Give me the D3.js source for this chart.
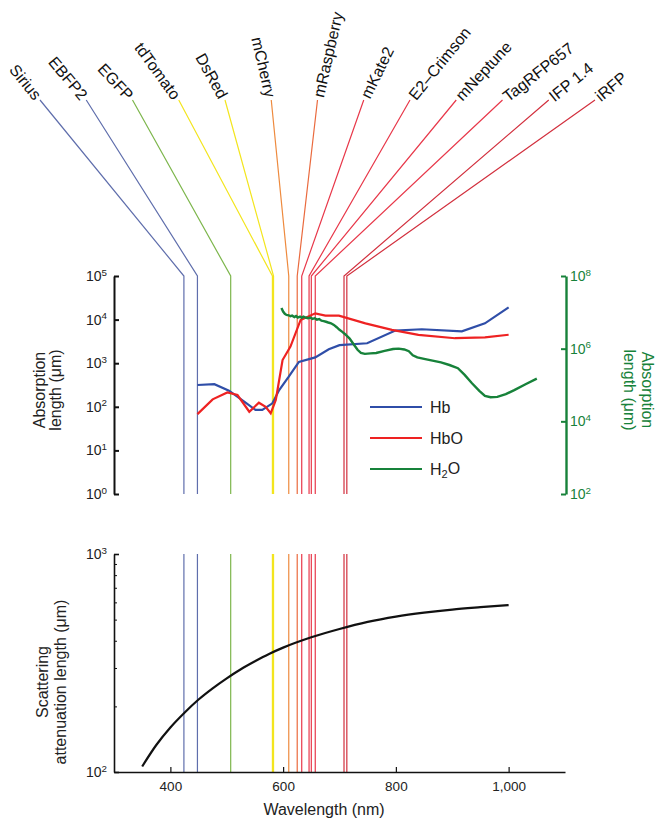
<!DOCTYPE html>
<html><head><meta charset="utf-8">
<script src="https://cdn.jsdelivr.net/npm/d3@7"></script>
<style>body{margin:0;background:#fff} svg text{font-family:"Liberation Sans",Arial,Helvetica,sans-serif}</style>
</head><body><svg id="c" width="662" height="829"></svg>
<script>
// ---- data ----
const proteins = ["Sirius","EBFP2","EGFP","tdTomato","DsRed","mCherry","mRaspberry","mKate2","E2\u2013Crimson","mNeptune","TagRFP657","IFP 1.4","iRFP"];
const emission = [424,448,507,581,583,610,625,633,646,650,657,708,713];
const proteinColors = ["#5f6eac","#5f6eac","#7db64c","#f3e51e","#f3e51e","#ee8a3e","#ea6a3e","#e8384a","#e8384a","#e8384a","#e8384a","#d2303e","#d2303e"];
const labelAngles = [51,50,47,54,61,77,-77,-64,-51,-47,-38,-39,-40];

const hbNm  = [448,478,504,531,551,563,581,593,610,628,657,681,700,749,799,846,917,958,1000];
const hbVal = [316,330,234,131,85,85,120,243,490,1070,1360,2090,2600,2870,5600,6000,5400,8200,19000];

const hboNm  = [448,475,501,519,540,557,569,578,587,599,613,631,657,675,699,746,793,840,905,958,1000];
const hboVal = [68,148,214,186,77,124,100,71,144,1180,2400,9800,13900,12300,12300,8200,5800,4450,3740,3930,4500];

const h2oNm  = [597,600,603,606,610,613,616,620,623,626,630,633,636,640,644,648,652,656,660,664,668,672,676,680,685,690,695,700,705,710,718,725,732,738,745,755,765,780,795,805,815,823,830,838,850,865,880,895,910,922,935,948,958,968,980,995,1010,1030,1050];
const h2oVal = [1.32e7,1.05e7,9.1e6,8.5e6,8.3e6,7.8e6,8.1e6,7.4e6,7.9e6,7.2e6,7.6e6,7.1e6,7.6e6,7.2e6,6.9e6,7.2e6,6.6e6,6.9e6,6.3e6,6.5e6,5.9e6,5.75e6,5.5e6,5.25e6,5.0e6,4.5e6,3.9e6,3.3e6,2.9e6,2.5e6,1.9e6,1.32e6,9.3e5,7.6e5,7.2e5,7.4e5,7.6e5,8.7e5,9.8e5,1.0e6,9.5e5,8.5e5,6.6e5,5.75e5,5.25e5,4.7e5,4.2e5,3.55e5,2.9e5,1.9e5,1.12e5,6.9e4,5.0e4,4.6e4,4.7e4,5.6e4,7.2e4,1.05e5,1.5e5];

const scatNm  = [350,375,400,425,450,475,500,525,550,575,600,650,700,750,800,850,900,950,1000];
const scatVal = [106,133,160,187,215,242,269,296,322,348,372,415,453,488,516,538,556,570,583];

const xTicks = [400,600,800,1000];
const absTicks = [1,10,100,1e3,1e4,1e5];
const waterTicks = [1e2,1e4,1e6,1e8];
const scatMajor = [100,1000];
const scatMinor = [200,300,400,500,600,700,800,900];

const legendItems = [{name:"Hb",color:"#2f4ea8"},{name:"HbO",color:"#ee2222"},{name:"H2O",color:"#17823a"}];

// ---- scales ----
const svg = d3.select("#c");
const x = d3.scaleLinear().domain([300,1100]).range([114,565]);
const yA = d3.scaleLog().domain([1,1e5]).range([494,276]);
const yW = d3.scaleLog().domain([1e2,1e8]).range([494,276]);
const yS = d3.scaleLog().domain([100,1000]).range([772,554]);
const anchorX = d3.scalePoint().domain(proteins).range([40,595]);
const anchorY = 100;
const green = "#17823a";

// ---- protein lines ----
const pg = svg.append("g").attr("fill","none").attr("stroke-width",1.2);
proteins.forEach((p,i)=>{
  const ex = x(emission[i]);
  pg.append("path").attr("stroke",proteinColors[i])
    .attr("d",`M${anchorX(p)},${anchorY}L${ex},${yA(1e5)}L${ex},${yA(1)}`);
  pg.append("path").attr("stroke",proteinColors[i])
    .attr("d",`M${ex},${yS(1000)}L${ex},${yS(100)}`);
  const a = labelAngles[i];
  svg.append("text")
    .attr("transform",`translate(${anchorX(p)},${anchorY}) rotate(${a})`)
    .attr("x", a>0 ? -3 : 3).attr("dy","0.35em")
    .attr("text-anchor", a>0 ? "end" : "start")
    .attr("font-size","16px").attr("fill","#111").text(p);
});

// ---- curves ----
const lineA = d3.line().x(d=>x(d[0])).y(d=>yA(d[1]));
const lineW = d3.line().x(d=>x(d[0])).y(d=>yW(d[1]));
const lineS = d3.line().x(d=>x(d[0])).y(d=>yS(d[1])).curve(d3.curveMonotoneX);
svg.append("path").attr("fill","none").attr("stroke",legendItems[0].color).attr("stroke-width",2.2)
  .attr("d",lineA(hbNm.map((n,i)=>[n,hbVal[i]])));
svg.append("path").attr("fill","none").attr("stroke",legendItems[1].color).attr("stroke-width",2.2)
  .attr("d",lineA(hboNm.map((n,i)=>[n,hboVal[i]])));
svg.append("path").attr("fill","none").attr("stroke",green).attr("stroke-width",2.4)
  .attr("d",lineW(h2oNm.map((n,i)=>[n,h2oVal[i]])));
svg.append("path").attr("fill","none").attr("stroke","#111").attr("stroke-width",2.2)
  .attr("d",lineS(scatNm.map((n,i)=>[n,scatVal[i]])));

// ---- axes ----
function supLabels(g, size){
  g.selectAll(".tick text").each(function(d){
    const t = d3.select(this).text("");
    t.append("tspan").text("10");
    t.append("tspan").attr("dy","-0.55em").attr("font-size",(size*0.7)+"px").text(Math.round(Math.log10(d)));
  });
}
const gL = svg.append("g").attr("transform","translate(114,0)")
  .call(d3.axisLeft(yA).tickValues(absTicks).tickSize(-5).tickSizeOuter(0).tickPadding(7).tickFormat(()=>""));
gL.attr("font-size",14).attr("font-family",null);
gL.select(".domain").attr("stroke","#111").attr("stroke-width",2);
gL.selectAll(".tick line").attr("stroke","#111").attr("stroke-width",2);
supLabels(gL,14);
gL.selectAll(".tick text").attr("fill","#222");

const gR = svg.append("g").attr("transform","translate(566,0)")
  .call(d3.axisRight(yW).tickValues(waterTicks).tickSize(-5).tickSizeOuter(0).tickPadding(4).tickFormat(()=>""));
gR.attr("font-size",14).attr("font-family",null);
gR.select(".domain").attr("stroke",green).attr("stroke-width",2.4);
gR.selectAll(".tick line").attr("stroke",green).attr("stroke-width",2);
supLabels(gR,14);
gR.selectAll(".tick text").attr("fill",green);

const gS = svg.append("g").attr("transform","translate(114,0)")
  .call(d3.axisLeft(yS).tickValues(scatMajor).tickSize(-5).tickSizeOuter(0).tickPadding(7).tickFormat(()=>""));
gS.attr("font-size",14).attr("font-family",null);
gS.select(".domain").attr("stroke","#111").attr("stroke-width",1.6);
gS.selectAll(".tick line").attr("stroke","#111").attr("stroke-width",1.6);
supLabels(gS,14);
gS.selectAll(".tick text").attr("fill","#222");
const gSm = svg.append("g").attr("transform","translate(114,0)")
  .call(d3.axisLeft(yS).tickValues(scatMinor).tickSize(-3).tickSizeOuter(0).tickFormat(()=>""));
gSm.select(".domain").remove();
gSm.selectAll(".tick line").attr("stroke","#111").attr("stroke-width",1);

const gX = svg.append("g").attr("transform","translate(0,772)")
  .call(d3.axisBottom(x).tickValues(xTicks).tickSize(-5).tickSizeOuter(0).tickPadding(9).tickFormat(d3.format(",")));
gX.attr("font-size",13.5).attr("font-family",null);
gX.select(".domain").attr("stroke","#111").attr("stroke-width",1.6);
gX.selectAll(".tick line").attr("stroke","#111").attr("stroke-width",1.2);
gX.selectAll(".tick text").attr("fill","#222");

// ---- axis titles ----
function twoLine(tx,ty,rot,l1,l2,gap,color){
  const t = svg.append("text").attr("transform",`translate(${tx},${ty}) rotate(${rot})`)
    .attr("text-anchor","middle").attr("font-size","16px").attr("fill",color);
  t.append("tspan").attr("x",0).attr("dy",0).text(l1);
  t.append("tspan").attr("x",0).attr("dy",gap).text(l2);
}
twoLine(45,390,-90,"Absorption","length (\u03bcm)",16,"#222");
twoLine(642,390,90,"Absorption","length (\u03bcm)",18,green);
twoLine(48,682,-90,"Scattering","attenuation length (\u03bcm)",18,"#222");
svg.append("text").attr("x",324).attr("y",815).attr("text-anchor","middle")
  .attr("font-size","16px").attr("fill","#222").text("Wavelength (nm)");

// ---- legend ----
const lg = svg.append("g");
legendItems.forEach((d,i)=>{
  const yy = 407 + i*31;
  lg.append("line").attr("x1",370).attr("x2",422).attr("y1",yy).attr("y2",yy)
    .attr("stroke",d.color).attr("stroke-width",2.2);
  const t = lg.append("text").attr("x",430).attr("y",yy).attr("dy","0.35em")
    .attr("font-size","16px").attr("fill","#222");
  if(d.name==="H2O"){
    t.append("tspan").text("H");
    t.append("tspan").attr("font-size","11px").attr("dy","0.35em").text("2");
    t.append("tspan").attr("dy","-0.25em").text("O");
  } else t.text(d.name);
});
</script></body></html>
